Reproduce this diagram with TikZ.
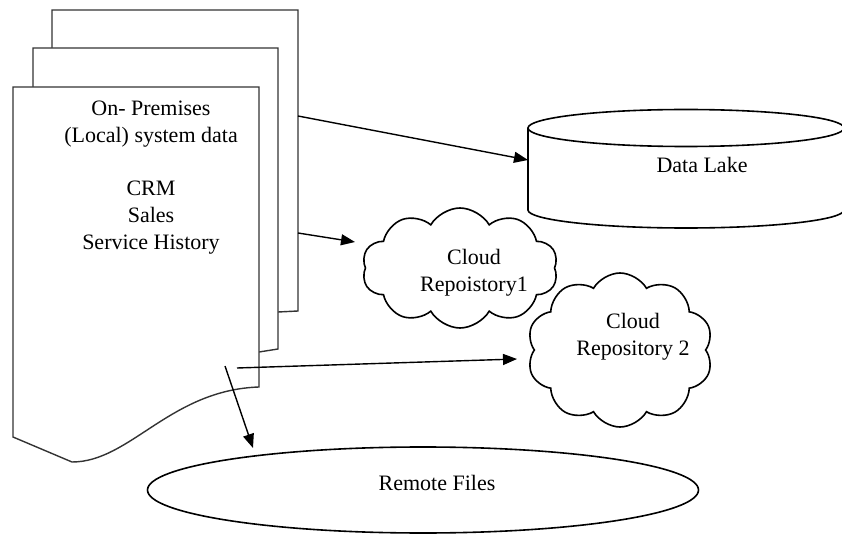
\documentclass[tikz,border=0pt]{standalone}
\usepackage{fontspec}
\setmainfont{Liberation Serif}
\usetikzlibrary{positioning,shapes.geometric,shapes.symbols,arrows.meta}
\tikzset{
  page/.style={draw=black!80, fill=white, line width=0.7pt},
  store/.style={draw=black, line width=0.8pt},
  puff/.style={draw, cloud, cloud puffs=10, cloud puff arc=120, cloud ignores aspect, inner sep=0pt, line width=0.8pt},
  flat/.style={draw, ellipse, inner sep=0pt, line width=0.8pt},
  arrow/.style={-{Triangle[length=7pt,width=5.5pt]}, line width=0.7pt}
}

\begin{document}
\begin{tikzpicture}[x=0.5pt, y=-0.5pt, font=\fontsize{11}{13.5}\selectfont]
  \useasboundingbox (0,0) rectangle (842,535);
  \clip (0,0) rectangle (842,535);

  % stack of pages
  \draw[page] (52,48) -- (52,10) -- (298,10) -- (298,311) -- (278,312);
  \draw[page] (33,87) -- (33,48) -- (278,48) -- (278,349) -- (259,352);
  \draw[page] (13,87) -- (259,87) -- (259,387)
    .. controls (170,390) and (130,462) .. (72,462) -- (13,437) -- cycle;
  \node[align=center] (docs) at (151,178)
    {On- Premises\\(Local) system data\hspace*{13pt}\\[13pt]CRM\\Sales\\Service History};

  % data lake
  \fill[white] (528,128) rectangle (844,210);
  \draw[store] (528,128) -- (528,210) arc[start angle=180, end angle=360, x radius=79pt, y radius=9pt] -- (844,128);
  \draw[store] (686,128) ellipse[x radius=79pt, y radius=9.25pt];
  \node (lake) at (702,165) {Data Lake};

  % clouds and remote files
  \node[puff, minimum width=98pt, minimum height=60pt,
        label={[align=center, xshift=7pt, yshift=-2.5pt]center:Cloud\\Repoistory1}] (cloud1) at (460,268) {};
  \node[puff, minimum width=93pt, minimum height=77pt,
        label={[align=center, xshift=6.5pt, yshift=6.5pt]center:Cloud\\Repository 2}] (cloud2) at (620,350) {};
  \node[flat, minimum width=275.5pt, minimum height=43pt,
        label={[xshift=7pt, yshift=3.5pt]center:Remote Files}] (files) at (423,490) {};

  % arrow ends
  \coordinate (out1) at (298,116);
  \coordinate (out2) at (298,233);
  \coordinate (out3) at (237,368);
  \coordinate (out4) at (225,366);
  \coordinate (in1) at (528,160);
  \coordinate (in2) at (355,242);
  \coordinate (in3) at (517,359);
  \coordinate (in4) at (253,448);

  \draw[arrow] (out1) -- (in1);
  \draw[arrow] (out2) -- (in2);
  \draw[arrow] (out3) -- (in3);
  \draw[arrow] (out4) -- (in4);
\end{tikzpicture}
\end{document}
